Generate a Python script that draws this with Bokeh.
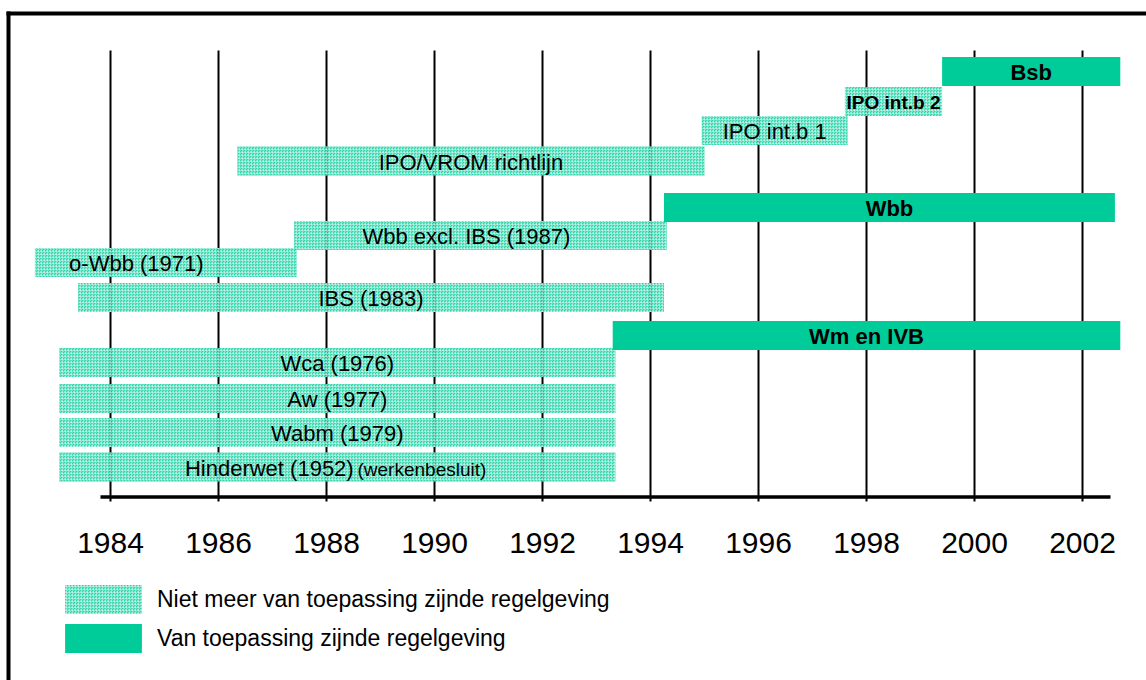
from bokeh.plotting import figure
from bokeh.models import Range1d, ColumnDataSource, Legend, LegendItem
from bokeh.core.properties import value
from bokeh.embed import file_html
from bokeh.resources import INLINE

# ---------------- data ----------------
names = ["Bsb", "IPO int.b 2", "IPO int.b 1", "IPO/VROM richtlijn", "Wbb",
         "Wbb excl. IBS (1987)", "o-Wbb (1971)", "IBS (1983)", "Wm en IVB",
         "Wca (1976)", "Aw (1977)", "Wabm (1979)", "Hinderwet (1952)"]
start = [1999.4, 1997.6, 1994.95, 1986.35, 1994.25,
         1987.4, 1982.6, 1983.4, 1993.3,
         1983.05, 1983.05, 1983.05, 1983.05]
end = [2002.7, 1999.4, 1997.65, 1995.0, 2002.6,
       1994.3, 1987.45, 1994.25, 2002.7,
       1993.35, 1993.35, 1993.35, 1993.35]
current = [True, False, False, False, True,
           False, False, False, True,
           False, False, False, False]
tick_years = [1984, 1986, 1988, 1990, 1992, 1994, 1996, 1998, 2000, 2002]
tick_labels = ["1984", "1986", "1988", "1990", "1992", "1994", "1996", "1998", "2000", "2002"]
legend_labels = ["Niet meer van toepassing zijnde regelgeving", "Van toepassing zijnde regelgeving"]
note = "(werkenbesluit)"

# ---------------- layout (page pixel rows) ----------------
row_y = [71, 101, 130, 160.5, 207, 235, 262, 297, 335, 362, 398, 432, 466.5]
BAR_H = 29
label_shift = {"o-Wbb (1971)": -29.5, "Wbb excl. IBS (1987)": -14, "Hinderwet (1952)": -68}

FONT = "Liberation Sans"
GREEN = "#00CC99"
W, H = 1146, 680


def yr(px):
    # page pixel -> year (54 px per year, 1984 at x=110)
    return 1984 + (px - 110) / 54.0


p = figure(width=W, height=H, output_backend="svg", toolbar_location=None,
           x_range=Range1d(yr(0), yr(W)), y_range=Range1d(H, 0),
           x_axis_location=None, y_axis_location=None, min_border=0)
p.grid.visible = False
p.outline_line_color = None
p.background_fill_color = "white"

# outer frame (left and top edges)
p.segment(x0=[yr(6), yr(8)], y0=[13, 11], x1=[yr(1160), yr(8)], y1=[13, 700],
          line_color="black", line_width=4)

# vertical grid lines
p.segment(x0=tick_years, y0=[50] * len(tick_years), x1=tick_years, y1=[501] * len(tick_years),
          line_color="black", line_width=2)
# axis line
p.segment(x0=[yr(100)], y0=[496.5], x1=[yr(1110)], y1=[496.5], line_color="black", line_width=3.5)
# tick labels
p.text(x=tick_years, y=[542] * len(tick_years), text=tick_labels, text_align="center",
       text_baseline="alphabetic", text_font=value(FONT), text_font_size="30px", text_color="black")

# bars
old = {k: [] for k in ("name", "left", "right", "y", "lx", "ly")}
cur = {k: [] for k in ("name", "left", "right", "y", "lx", "ly")}
for n, s, e, c, y in zip(names, start, end, current, row_y):
    d = cur if c else old
    d["name"].append(n)
    d["left"].append(s)
    d["right"].append(e)
    d["y"].append(y)
    d["lx"].append((s + e) / 2 + label_shift.get(n, 0) / 54.0)
    d["ly"].append(y + 1)
old_src = ColumnDataSource(old)
cur_src = ColumnDataSource(cur)

HATCH = dict(fill_color=GREEN, fill_alpha=0.82, hatch_pattern="criss_cross",
             hatch_color="white", hatch_alpha=0.35, hatch_scale=3, hatch_weight=1)
r_old = p.hbar(y="y", left="left", right="right", height=BAR_H, source=old_src,
               line_color=None, **HATCH)
r_cur = p.hbar(y="y", left="left", right="right", height=BAR_H, source=cur_src,
               fill_color=GREEN, line_color=None)

# labels
reg = [(n, x, y) for n, x, y in zip(old["name"], old["lx"], old["ly"]) if n != "IPO int.b 2"]
p.text(x=[r[1] for r in reg], y=[r[2] for r in reg], text=[r[0] for r in reg],
       text_align="center", text_baseline="middle",
       text_font=value(FONT), text_font_size="22px", text_color="black")
ipo2 = [(x, y) for n, x, y in zip(old["name"], old["lx"], old["ly"]) if n == "IPO int.b 2"]
p.text(x=[ipo2[0][0]], y=[ipo2[0][1]], text=["IPO int.b 2"], text_align="center",
       text_baseline="middle", text_font=value(FONT), text_font_size="19px",
       text_font_style="bold", text_color="black")
p.text(x="lx", y="ly", text="name", source=cur_src, text_align="center", text_baseline="middle",
       text_font=value(FONT), text_font_size="22px", text_font_style="bold", text_color="black")
# note after Hinderwet
hw = names.index("Hinderwet (1952)")
p.text(x=[yr(357)], y=[row_y[hw] + 2], text=[note], text_align="left", text_baseline="middle",
       text_font=value(FONT), text_font_size="19px", text_color="black")

legend = Legend(items=[LegendItem(label=legend_labels[0], renderers=[r_old]),
                       LegendItem(label=legend_labels[1], renderers=[r_cur])],
                location=(55, 24), orientation="vertical", padding=0, margin=0, spacing=3,
                glyph_width=96, glyph_height=36, label_standoff=6,
                label_text_font=FONT, label_text_font_size="23px", label_text_color="black",
                border_line_color=None, background_fill_alpha=0)
p.add_layout(legend)

open("out.html", "w").write(file_html(p, INLINE))
